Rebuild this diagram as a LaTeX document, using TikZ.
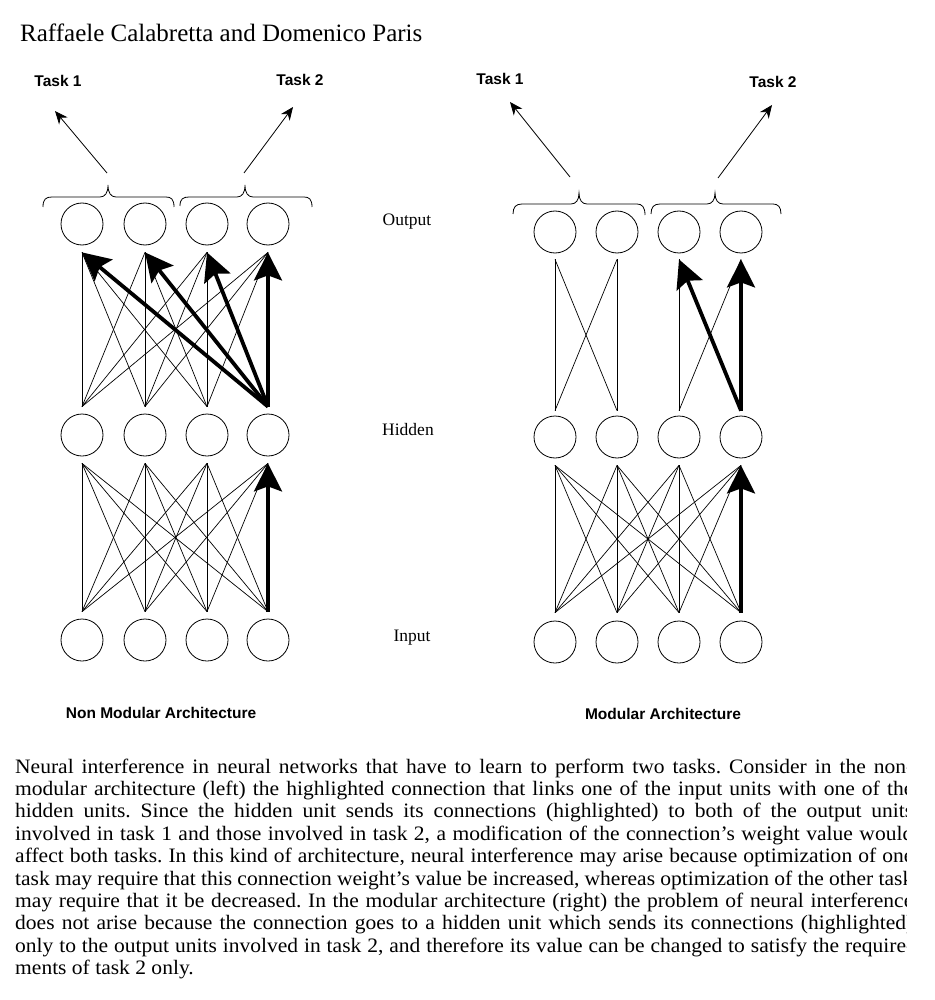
\documentclass[tikz,border=0pt]{standalone}
\usepackage{fontspec}
\setmainfont{Liberation Serif}
\setsansfont{Liberation Sans}
\newfontfamily\capfont{Liberation Serif}[FakeStretch=1.05]
\usetikzlibrary{arrows.meta}
\begin{document}
\begin{tikzpicture}[x=1pt,y=-1pt,
  neuron/.style={circle,draw,line width=0.8pt,minimum size=42pt,inner sep=0pt},
  conn/.style={line width=0.7pt},
  hl/.style={line width=3.8pt,-{Stealth[length=28pt,width=28pt,inset=5pt]}},
  taskarrow/.style={line width=0.8pt,-{Stealth[length=13pt,width=11pt]}},
  bracepath/.style={line width=0.8pt},
  tasklbl/.style={inner sep=0pt,font=\sffamily\bfseries\fontsize{15.5}{18}\selectfont},
  archlbl/.style={inner sep=0pt,font=\sffamily\bfseries\fontsize{15.5}{18}\selectfont},
  layerlbl/.style={inner sep=0pt,font=\fontsize{17.5}{20}\selectfont},
  capline/.style={anchor=base west,inner sep=0pt,font=\capfont\fontsize{20.5}{22}\selectfont\frenchspacing}]
\useasboundingbox (0,0) rectangle (934,1000);
\fill[white] (0,0) rectangle (934,1000);

% title
\node[anchor=base west,inner sep=0pt,font=\fontsize{25}{28}\selectfont] (title) at (20,42) {Raffaele Calabretta and Domenico Paris};

% ---------- left network ----------
\foreach \i/\x in {1/82,2/145,3/207,4/268}{
  \node[neuron] (Lo\i) at (\x,224) {};
  \node[neuron] (Lh\i) at (\x,435) {};
  \node[neuron] (Li\i) at (\x,640) {};
  \coordinate (Lob\i) at ([yshift=-7pt]Lo\i.south);
  \coordinate (Lht\i) at ([yshift=7pt]Lh\i.north);
  \coordinate (Lhb\i) at ([yshift=-7pt]Lh\i.south);
  \coordinate (Lit\i) at ([yshift=7pt]Li\i.north);
}
\foreach \a in {1,2,3}{\foreach \b in {1,2,3,4}{\draw[conn] (Lht\a) -- (Lob\b);}}
\foreach \a in {1,2,3,4}{\foreach \b in {1,2,3,4}{\ifnum\a\b=44 \else \draw[conn] (Lit\a) -- (Lhb\b);\fi}}
\foreach \b in {1,2,3,4}{\draw[hl] (Lht4) -- (Lob\b);}
\draw[hl] (Lit4) -- (Lhb4);

% ---------- right network ----------
\foreach \i/\x in {1/555,2/617,3/679,4/741}{
  \node[neuron] (Ro\i) at (\x,232) {};
  \node[neuron] (Rh\i) at (\x,437) {};
  \node[neuron] (Ri\i) at (\x,642) {};
  \coordinate (Rob\i) at ([yshift=-6pt]Ro\i.south);
  \coordinate (Rht\i) at ([yshift=5pt]Rh\i.north);
  \coordinate (Rhb\i) at ([yshift=-7pt]Rh\i.south);
  \coordinate (Rit\i) at ([yshift=8pt]Ri\i.north);
}
\draw[conn] (Rht1) -- (Rob1);
\draw[conn] (Rht1) -- (Rob2);
\draw[conn] (Rht2) -- (Rob1);
\draw[conn] (Rht2) -- (Rob2);
\draw[conn] (Rht3) -- (Rob3);
\draw[conn] (Rht3) -- (Rob4);
\foreach \a in {1,2,3,4}{\foreach \b in {1,2,3,4}{\ifnum\a\b=44 \else \draw[conn] (Rit\a) -- (Rhb\b);\fi}}
\draw[hl] (Rht4) -- (Rob3);
\draw[hl] (Rht4) -- (Rob4);
\draw[hl] (Rit4) -- (Rhb4);

% ---------- braces ----------
\draw[bracepath] (43,207) .. controls (43,199) and (46,197) .. (52,197) -- (100,197)
  .. controls (105,197) and (108,193) .. (108,185) .. controls (108,193) and (111,197) .. (116,197)
  -- (166,197) .. controls (171,197) and (174,199) .. (174,207);
\draw[bracepath] (180,206) .. controls (180,199) and (183,197) .. (189,197) -- (237,197)
  .. controls (242,197) and (245,193) .. (245,185) .. controls (245,193) and (248,197) .. (253,197)
  -- (304,197) .. controls (309,197) and (312,199) .. (312,207);
\draw[bracepath] (513,214) .. controls (513,207) and (516,204) .. (522,204) -- (571,204)
  .. controls (576,204) and (579,200) .. (579,193) .. controls (579,200) and (582,204) .. (587,204)
  -- (637,204) .. controls (642,204) and (645,207) .. (645,215);
\draw[bracepath] (651,214) .. controls (651,207) and (654,204) .. (660,204) -- (707,204)
  .. controls (712,204) and (715,200) .. (715,193) .. controls (715,200) and (718,204) .. (723,204)
  -- (773,204) .. controls (778,204) and (781,207) .. (781,214);

% ---------- task labels and arrows ----------
\node[tasklbl] (LT1) at (58,81) {Task 1};
\node[tasklbl] (LT2) at (300,80) {Task 2};
\node[tasklbl] (RT1) at (500,79) {Task 1};
\node[tasklbl] (RT2) at (773,82) {Task 2};
\coordinate (LB1) at (107,173); \coordinate (LA1) at (55,111);
\coordinate (LB2) at (244,173); \coordinate (LA2) at (293,107);
\coordinate (RB1) at (570,177); \coordinate (RA1) at (510,102);
\coordinate (RB2) at (718,178); \coordinate (RA2) at (772,105);
\draw[taskarrow] (LB1) -- (LA1);
\draw[taskarrow] (LB2) -- (LA2);
\draw[taskarrow] (RB1) -- (RA1);
\draw[taskarrow] (RB2) -- (RA2);

% ---------- layer labels ----------
\node[layerlbl] (lout) at (407,222) {Output};
\node[layerlbl] (lhid) at (408,430) {Hidden};
\node[layerlbl] (linp) at (412,638) {Input};

\node[archlbl] (nonmod) at (161,713) {Non Modular Architecture};
\node[archlbl] (mod) at (663,714) {Modular Architecture};

% ---------- caption ----------
\begin{scope}
\clip (0,740) rectangle (906,1000);
\node[capline] (c1) at (15,773.0) {\makebox[898pt][s]{Neural interference in neural networks that have to learn to perform two tasks. Consider in the non-}};
\node[capline] (c2) at (15,795.4) {\makebox[898pt][s]{modular architecture (left) the highlighted connection that links one of the input units with one of the}};
\node[capline] (c3) at (15,817.8) {\makebox[898pt][s]{hidden units. Since the hidden unit sends its connections (highlighted) to both of the output units}};
\node[capline] (c4) at (15,840.2) {\makebox[898pt][s]{involved in task 1 and those involved in task 2, a modification of the connection’s weight value would}};
\node[capline] (c5) at (15,862.6) {\makebox[898pt][s]{affect both tasks. In this kind of architecture, neural interference may arise because optimization of one}};
\node[capline] (c6) at (15,885.0) {\makebox[898pt][s]{task may require that this connection weight’s value be increased, whereas optimization of the other task}};
\node[capline] (c7) at (15,907.4) {\makebox[898pt][s]{may require that it be decreased. In the modular architecture (right) the problem of neural interference}};
\node[capline] (c8) at (15,929.8) {\makebox[898pt][s]{does not arise because the connection goes to a hidden unit which sends its connections (highlighted)}};
\node[capline] (c9) at (15,952.2) {\makebox[898pt][s]{only to the output units involved in task 2, and therefore its value can be changed to satisfy the require-}};
\node[capline] (c10) at (15,974.6) {ments of task 2 only.};
\end{scope}
\end{tikzpicture}
\end{document}
